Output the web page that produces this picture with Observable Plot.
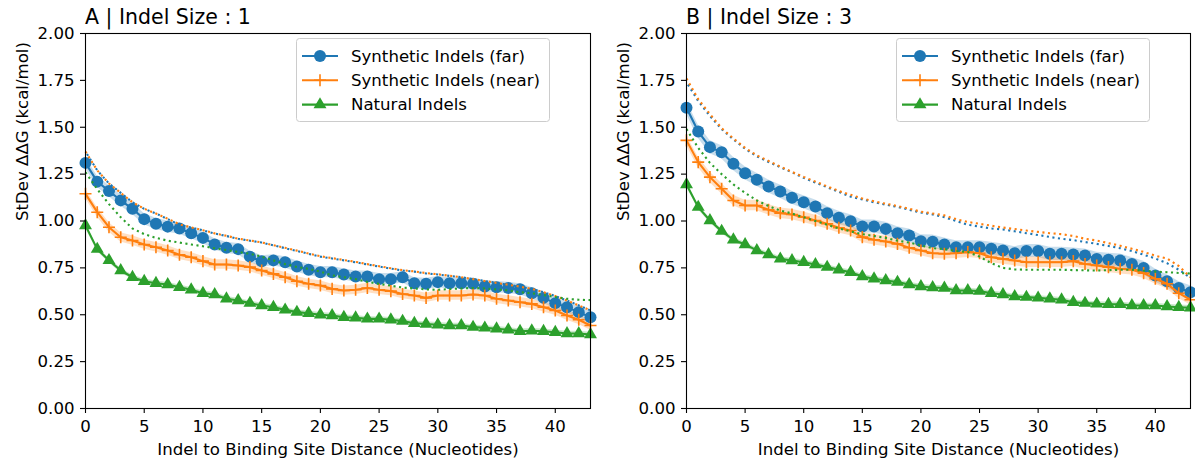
<!DOCTYPE html>
<html><head><meta charset="utf-8">
<script src="https://cdn.jsdelivr.net/npm/d3@7"></script>
<script src="https://cdn.jsdelivr.net/npm/@observablehq/plot@0.6"></script>
<style>
body{margin:0;background:#fff;font-family:"DejaVu Sans",sans-serif}
#wrap{display:flex;width:1195px;height:459px;overflow:hidden}
</style>
</head><body><div id="wrap"></div>
<script>
// ---------- data ----------
const distance = [0,1,2,3,4,5,6,7,8,9,10,11,12,13,14,15,16,17,18,19,20,21,22,23,24,25,26,27,28,29,30,31,32,33,34,35,36,37,38,39,40,41,42,43];
const seriesNames = ["Synthetic Indels (far)", "Synthetic Indels (near)", "Natural Indels"];
const seriesColors = ["#1f77b4", "#ff7f0e", "#2ca02c"];
const xTicks = [0,5,10,15,20,25,30,35,40];
const yTicks = [0,0.25,0.5,0.75,1,1.25,1.5,1.75,2];
const panelTitles = ["A | Indel Size : 1", "B | Indel Size : 3"];
const xLabel = "Indel to Binding Site Distance (Nucleotides)";
const yLabel = "StDev ΔΔG (kcal/mol)";

// Panel A (indel size 1)
const farA = [1.31,1.21,1.16,1.11,1.065,1.01,0.985,0.97,0.96,0.935,0.91,0.875,0.857,0.85,0.81,0.785,0.79,0.78,0.757,0.74,0.727,0.727,0.715,0.704,0.704,0.69,0.69,0.70,0.668,0.665,0.674,0.668,0.668,0.665,0.651,0.647,0.643,0.636,0.615,0.59,0.562,0.54,0.514,0.487];
const nearA = [1.145,1.047,0.967,0.913,0.896,0.875,0.86,0.843,0.82,0.807,0.786,0.768,0.768,0.763,0.754,0.736,0.718,0.70,0.679,0.665,0.656,0.638,0.629,0.633,0.643,0.633,0.626,0.611,0.603,0.59,0.603,0.603,0.603,0.608,0.603,0.585,0.576,0.567,0.558,0.54,0.523,0.496,0.473,0.443];
const naturalA = [0.976,0.85,0.79,0.736,0.70,0.679,0.668,0.661,0.647,0.633,0.615,0.608,0.585,0.576,0.562,0.549,0.54,0.526,0.514,0.508,0.50,0.496,0.487,0.484,0.478,0.478,0.473,0.466,0.455,0.451,0.447,0.443,0.443,0.434,0.43,0.425,0.42,0.412,0.415,0.412,0.407,0.40,0.40,0.395];
const farDotA = [1.37,1.27,1.20,1.15,1.10,1.065,1.04,1.01,0.98,0.965,0.95,0.933,0.92,0.905,0.895,0.885,0.87,0.855,0.84,0.825,0.81,0.80,0.79,0.78,0.768,0.757,0.746,0.736,0.73,0.72,0.715,0.707,0.70,0.69,0.68,0.67,0.66,0.65,0.638,0.62,0.60,0.576,0.55,0.523];
const nearDotA = [1.37,1.27,1.20,1.15,1.10,1.065,1.04,1.012,0.982,0.966,0.951,0.934,0.921,0.906,0.896,0.886,0.871,0.857,0.842,0.827,0.812,0.802,0.792,0.782,0.77,0.759,0.748,0.738,0.731,0.722,0.716,0.708,0.70,0.69,0.68,0.67,0.66,0.65,0.638,0.62,0.60,0.576,0.55,0.523];
const naturalDotA = [1.26,1.17,1.09,1.02,0.96,0.93,0.91,0.895,0.885,0.875,0.865,0.855,0.845,0.835,0.825,0.81,0.79,0.77,0.755,0.745,0.73,0.71,0.70,0.69,0.675,0.665,0.655,0.645,0.64,0.635,0.633,0.637,0.64,0.643,0.64,0.635,0.63,0.62,0.615,0.605,0.595,0.585,0.58,0.578];
const bandA = [0.03, 0.025, 0.012];

// Panel B (indel size 3)
const farB = [1.604,1.477,1.394,1.367,1.305,1.255,1.22,1.184,1.157,1.124,1.10,1.077,1.042,1.017,0.999,0.971,0.971,0.958,0.935,0.923,0.892,0.89,0.875,0.86,0.86,0.86,0.852,0.843,0.828,0.84,0.84,0.825,0.825,0.821,0.816,0.798,0.793,0.789,0.771,0.75,0.709,0.679,0.643,0.62];
const nearB = [1.43,1.314,1.234,1.172,1.109,1.083,1.083,1.06,1.042,1.035,1.02,1.003,0.985,0.964,0.949,0.914,0.90,0.891,0.878,0.857,0.843,0.828,0.825,0.828,0.834,0.828,0.807,0.798,0.789,0.78,0.78,0.78,0.78,0.786,0.771,0.763,0.754,0.745,0.74,0.722,0.692,0.665,0.615,0.58];
const naturalB = [1.195,1.074,1.003,0.946,0.90,0.875,0.843,0.821,0.798,0.789,0.78,0.768,0.754,0.74,0.727,0.704,0.692,0.683,0.674,0.661,0.651,0.645,0.643,0.629,0.629,0.626,0.615,0.608,0.597,0.594,0.59,0.585,0.58,0.567,0.562,0.558,0.556,0.556,0.549,0.549,0.549,0.544,0.54,0.537];
const farDotB = [1.74,1.64,1.56,1.49,1.435,1.385,1.345,1.315,1.287,1.26,1.23,1.205,1.18,1.155,1.13,1.115,1.10,1.087,1.075,1.06,1.045,1.035,1.02,1.00,0.98,0.97,0.96,0.955,0.945,0.935,0.925,0.915,0.905,0.898,0.888,0.878,0.867,0.855,0.84,0.82,0.80,0.775,0.74,0.697];
const nearDotB = [1.76,1.65,1.57,1.495,1.44,1.39,1.35,1.32,1.29,1.262,1.235,1.21,1.185,1.16,1.14,1.12,1.105,1.092,1.08,1.065,1.05,1.04,1.03,1.01,0.995,0.985,0.975,0.965,0.957,0.949,0.942,0.935,0.93,0.92,0.905,0.896,0.882,0.868,0.852,0.835,0.815,0.80,0.76,0.70];
const naturalDotB = [1.49,1.39,1.31,1.25,1.195,1.15,1.11,1.08,1.056,1.04,1.02,1.00,0.98,0.96,0.945,0.93,0.92,0.91,0.895,0.885,0.87,0.855,0.85,0.84,0.835,0.81,0.775,0.75,0.742,0.74,0.74,0.74,0.74,0.738,0.737,0.736,0.738,0.74,0.74,0.735,0.73,0.727,0.723,0.72];
const bandB = [0.035, 0.028, 0.012];

// ---------- drawing ----------
const FONT = "DejaVu Sans";
const FS = 16.6;
const symbols = ["circle", "plus", "triangle"];

function rowsOf(vals, half) {
  return distance.map((d, i) => ({d, v: vals[i], lo: vals[i] - half, hi: vals[i] + half}));
}

function panel({title, series, dotted, bands, width, mL, mR}) {
  const H = 459, mT = 33, mB = 51;
  const marks = [];
  series.forEach((vals, i) => {
    marks.push(Plot.areaY(rowsOf(vals, bands[i]), {x: "d", y1: "lo", y2: "hi", fill: seriesColors[i], fillOpacity: 0.25}));
  });
  series.forEach((vals, i) => {
    const rows = rowsOf(vals, bands[i]);
    marks.push(Plot.lineY(rows, {x: "d", y: "v", stroke: seriesColors[i], strokeWidth: 2.1}));
    if (symbols[i] === "plus") {
      marks.push(Plot.dot(rows, {x: "d", y: "v", symbol: "plus", r: 3.95, stroke: seriesColors[i], strokeWidth: 1.6}));
    } else if (symbols[i] === "triangle") {
      marks.push(Plot.dot(rows, {x: "d", y: "v", symbol: "triangle", r: 4.8, fill: seriesColors[i]}));
    } else {
      marks.push(Plot.dot(rows, {x: "d", y: "v", symbol: "circle", r: 6, fill: seriesColors[i]}));
    }
  });
  dotted.forEach((vals, i) => {
    marks.push(Plot.lineY(rowsOf(vals, 0), {x: "d", y: "v", stroke: seriesColors[i], strokeWidth: 2.1,
      strokeDasharray: "2.1,3.5", strokeDashoffset: i === 0 ? 2.8 : 0, strokeLinecap: "butt"}));
  });
  marks.push(Plot.frame({stroke: "black", strokeWidth: 1.1}));
  marks.push(Plot.axisX({ticks: xTicks, tickSize: 5, tickPadding: 7, label: null, fontSize: FS, strokeWidth: 1.1}));
  marks.push(Plot.axisY({ticks: yTicks, tickSize: 5, tickPadding: 6, tickFormat: d3.format(".2f"), label: null, fontSize: FS, strokeWidth: 1.1}));
  marks.push(Plot.text([xLabel], {frameAnchor: "bottom", dy: 46, fontSize: FS, fill: "black"}));
  marks.push(Plot.text([yLabel], {frameAnchor: "left", dx: -63.3, rotate: -90, fontSize: FS, fill: "black"}));

  const svg = Plot.plot({
    width, height: H, marginTop: mT, marginBottom: mB, marginLeft: mL, marginRight: mR,
    x: {domain: [0, 43]},
    y: {domain: [0, 2]},
    style: {fontFamily: FONT, fontSize: FS + "px", color: "black", background: "white", overflow: "visible"},
    marks
  });

  // panel title (left-aligned above the axes)
  d3.select(svg).append("text").attr("x", mL).attr("y", 24.3).attr("text-anchor", "start")
    .attr("font-family", FONT).attr("font-size", 20.5).attr("fill", "black").text(title);

  // legend (upper right, inside axes)
  const bw = 253, bh = 83;
  const bx = width - mR - 41 - bw, by = 38;
  const g = d3.select(svg).append("g").attr("font-family", FONT).attr("font-size", FS).attr("text-anchor", "start");
  g.append("rect").attr("x", bx + 0.5).attr("y", by + 0.5).attr("width", bw).attr("height", bh)
    .attr("rx", 3).attr("fill", "white").attr("fill-opacity", 0.8).attr("stroke", "#cccccc").attr("stroke-width", 1);
  seriesNames.forEach((name, i) => {
    const cy = by + 18 + i * 24.3;
    const x0 = bx + 6, x1 = bx + 42, xm = (x0 + x1) / 2;
    g.append("line").attr("x1", x0).attr("x2", x1).attr("y1", cy).attr("y2", cy)
      .attr("stroke", seriesColors[i]).attr("stroke-width", 2.1);
    if (symbols[i] === "circle") {
      g.append("circle").attr("cx", xm).attr("cy", cy).attr("r", 6).attr("fill", seriesColors[i]);
    } else if (symbols[i] === "plus") {
      g.append("path").attr("d", `M${xm - 6},${cy}H${xm + 6}M${xm},${cy - 6}V${cy + 6}`)
        .attr("stroke", seriesColors[i]).attr("stroke-width", 1.6).attr("fill", "none");
    } else {
      g.append("path").attr("d", d3.symbol(d3.symbolTriangle, Math.PI * 4.8 * 4.8)()).attr("transform", `translate(${xm},${cy})`)
        .attr("fill", seriesColors[i]);
    }
    g.append("text").attr("x", bx + 55).attr("y", cy).attr("dy", "0.35em").attr("fill", "black").attr("text-anchor", "start").text(name);
  });
  return svg;
}

const wrap = document.getElementById("wrap");
wrap.append(panel({title: panelTitles[0], series: [farA, nearA, naturalA], dotted: [farDotA, nearDotA, naturalDotA], bands: bandA, width: 597, mL: 85, mR: 7}));
wrap.append(panel({title: panelTitles[1], series: [farB, nearB, naturalB], dotted: [farDotB, nearDotB, naturalDotB], bands: bandB, width: 598, mL: 89, mR: 5}));
</script>
</body></html>
